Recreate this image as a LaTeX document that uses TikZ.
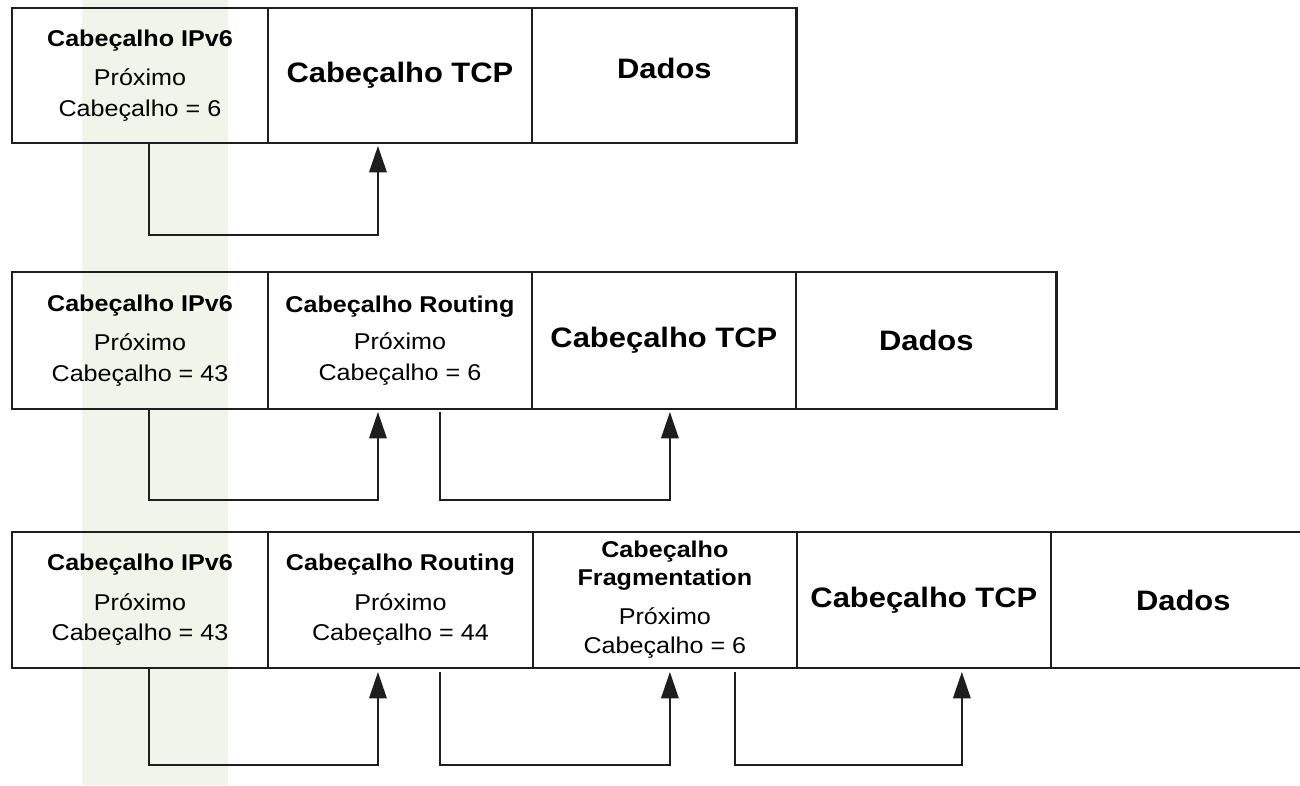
\documentclass[tikz,border=0pt]{standalone}
\usepackage{fontspec}
\setmainfont{Liberation Sans}[FakeStretch=1.1]
\usetikzlibrary{positioning,calc,arrows.meta}

\definecolor{bandgreen}{RGB}{240,245,233}
\definecolor{linegray}{RGB}{30,30,30}

\tikzset{
  cell/.style={draw=linegray, line width=0.8pt, inner sep=0pt, outer sep=0pt,
    align=center, font=\fontsize{13}{17.5}\selectfont},
  bigcell/.style={cell, font=\fontsize{16}{18}\selectfont\bfseries},
  frame/.style={draw=linegray, line width=1.6pt},
  link/.style={draw=linegray, line width=0.8pt, -{Triangle[length=15pt,width=10pt]}},
}

\begin{document}
\begin{tikzpicture}[x=0.02cm, y=0.02cm]
    \useasboundingbox (0,0) rectangle (1300,-785);
    % Background
    \fill[white] (0,0) rectangle (1300,-785);
    \fill[bandgreen] (82,0) rectangle (228,-785);

    % Row 1
    \node[cell, minimum width=5.12cm, minimum height=2.7cm, anchor=north west] (ip1) at (12,-8)
        {\textbf{Cabeçalho IPv6}\\[5pt] Próximo\\ Cabeçalho = 6};
    \node[bigcell, minimum width=5.28cm, minimum height=2.7cm, right=0pt of ip1] (tcp1) {Cabeçalho TCP};
    \node[bigcell, minimum width=5.3cm, minimum height=2.7cm, right=0pt of tcp1] (dados1) {Dados\\[-10pt]};
    \draw[frame] (ip1.north west) rectangle (dados1.south east);
    \draw[link] ($(ip1.south west)+(137,0)$) -- ++(0,-92) -| ($(tcp1.south west)+(110,-3)$);

    % Row 2
    \node[cell, minimum width=5.12cm, minimum height=2.74cm, anchor=north west] (ip2) at (12,-272)
        {\textbf{Cabeçalho IPv6}\\[5pt] Próximo\\ Cabeçalho = 43};
    \node[cell, minimum width=5.28cm, minimum height=2.74cm, right=0pt of ip2] (rt2)
        {\textbf{Cabeçalho Routing}\\[4pt] Próximo\\ Cabeçalho = 6};
    \node[bigcell, minimum width=5.28cm, minimum height=2.74cm, right=0pt of rt2] (tcp2) {Cabeçalho TCP};
    \node[bigcell, minimum width=5.22cm, minimum height=2.74cm, right=0pt of tcp2] (dados2) {Dados};
    \draw[frame] (ip2.north west) rectangle (dados2.south east);
    \draw[link] ($(ip2.south west)+(137,0)$) -- ++(0,-91) -| ($(rt2.south west)+(110,-3)$);
    \draw[link] ($(rt2.south west)+(172,-3)$) -- ++(0,-88) -| ($(tcp2.south west)+(138,-3)$);

    % Row 3
    \node[cell, minimum width=5.12cm, minimum height=2.72cm, anchor=north west] (ip3) at (12,-532)
        {\textbf{Cabeçalho IPv6}\\[5pt] Próximo\\ Cabeçalho = 43};
    \node[cell, minimum width=5.3cm, minimum height=2.72cm, right=0pt of ip3] (rt3)
        {\textbf{Cabeçalho Routing}\\[5pt] Próximo\\ Cabeçalho = 44};
    \node[cell, minimum width=5.28cm, minimum height=2.72cm, right=0pt of rt3] (frag3)
        {\textbf{Cabeçalho}\\[-2pt] \textbf{Fragmentation}\\[5pt] Próximo\\[-1pt] Cabeçalho = 6};
    \node[bigcell, minimum width=5.08cm, minimum height=2.72cm, right=0pt of frag3] (tcp3) {Cabeçalho TCP};
    \node[bigcell, minimum width=5.3cm, minimum height=2.72cm, right=0pt of tcp3] (dados3) {Dados};
    \draw[frame] (ip3.north west) rectangle (dados3.south east);
    \draw[link] ($(ip3.south west)+(137,0)$) -- ++(0,-97) -| ($(rt3.south west)+(110,-4)$);
    \draw[link] ($(rt3.south west)+(172,-4)$) -- ++(0,-93) -| ($(frag3.south west)+(137,-4)$);
    \draw[link] ($(frag3.south west)+(202,-4)$) -- ++(0,-93) -| ($(tcp3.south west)+(165,-4)$);
\end{tikzpicture}
\end{document}
